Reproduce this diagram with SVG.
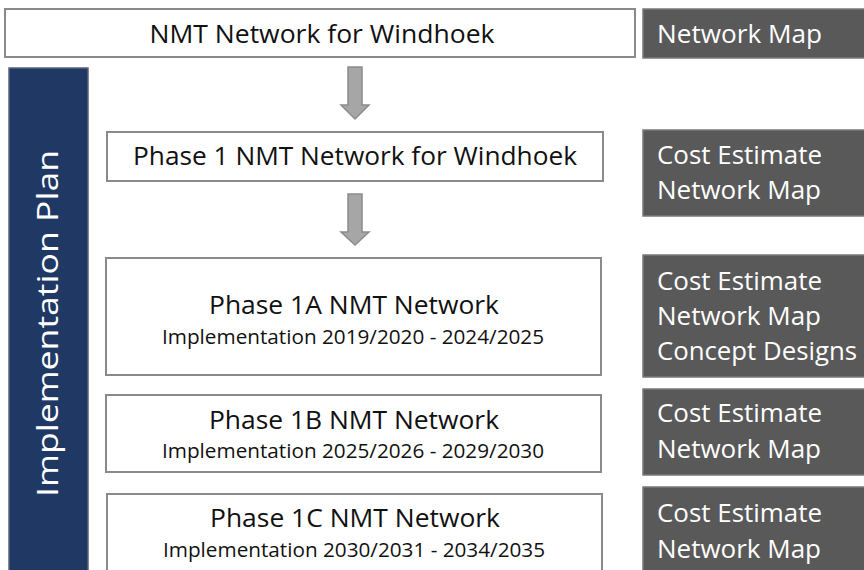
<svg xmlns="http://www.w3.org/2000/svg" width="864" height="570" viewBox="0 0 864 570">
  <defs>
    <style>
      .box { fill: #ffffff; stroke: #8a8a8a; stroke-width: 2; }
      .dark { fill: #595959; stroke: #7a7a7a; stroke-width: 1.5; }
      .band { fill: #203864; stroke: #5a6478; stroke-width: 1.5; }
      .arrow { fill: #a6a6a6; stroke: #8c8c8c; stroke-width: 1.5; stroke-linejoin: miter; }
      text { font-family: "Open Sans", "Noto Sans", "Liberation Sans", sans-serif; }
      .title { font-size: 25px; fill: #111111; text-anchor: middle; }
      .sub { font-size: 20px; fill: #111111; text-anchor: middle; }
      .out { font-size: 25px; fill: #ffffff; }
      .side { font-size: 30px; fill: #ffffff; text-anchor: middle; }
    </style>
  </defs>

  <rect width="864" height="570" fill="#ffffff"/>

  <!-- vertical band -->
  <g id="implementation-plan">
    <rect class="band" x="9" y="68" width="79" height="512"/>
    <text class="side" transform="translate(58 323.5) rotate(-90)" x="0" y="0" textLength="347" lengthAdjust="spacingAndGlyphs">Implementation Plan</text>
  </g>

  <!-- process boxes -->
  <g id="nmt-network">
    <rect class="box" x="5" y="9" width="630" height="48"/>
    <text class="title" x="322" y="43" textLength="345" lengthAdjust="spacingAndGlyphs">NMT Network for Windhoek</text>
  </g>
  <g id="phase-1">
    <rect class="box" x="107" y="132" width="496" height="49"/>
    <text class="title" x="355" y="165" textLength="444" lengthAdjust="spacingAndGlyphs">Phase 1 NMT Network for Windhoek</text>
  </g>
  <g id="phase-1a">
    <rect class="box" x="106" y="258" width="495" height="117"/>
    <text class="title" x="354" y="314" textLength="290" lengthAdjust="spacingAndGlyphs">Phase 1A NMT Network</text>
    <text class="sub" x="353" y="344" textLength="382" lengthAdjust="spacingAndGlyphs">Implementation 2019/2020 - 2024/2025</text>
  </g>
  <g id="phase-1b">
    <rect class="box" x="106" y="395" width="495" height="77"/>
    <text class="title" x="354" y="429" textLength="290" lengthAdjust="spacingAndGlyphs">Phase 1B NMT Network</text>
    <text class="sub" x="353" y="458" textLength="382" lengthAdjust="spacingAndGlyphs">Implementation 2025/2026 - 2029/2030</text>
  </g>
  <g id="phase-1c">
    <rect class="box" x="107" y="494" width="495" height="100"/>
    <text class="title" x="355" y="527" textLength="290" lengthAdjust="spacingAndGlyphs">Phase 1C NMT Network</text>
    <text class="sub" x="354" y="557" textLength="382" lengthAdjust="spacingAndGlyphs">Implementation 2030/2031 - 2034/2035</text>
  </g>

  <!-- deliverable boxes -->
  <g id="out-top">
    <rect class="dark" x="643" y="9" width="230" height="49"/>
    <text class="out" x="657" y="43" textLength="165" lengthAdjust="spacingAndGlyphs">Network Map</text>
  </g>
  <g id="out-phase-1">
    <rect class="dark" x="643" y="130" width="230" height="86"/>
    <text class="out" x="657" y="164" textLength="165" lengthAdjust="spacingAndGlyphs">Cost Estimate</text>
    <text class="out" x="657" y="199" textLength="164" lengthAdjust="spacingAndGlyphs">Network Map</text>
  </g>
  <g id="out-phase-1a">
    <rect class="dark" x="643" y="255" width="230" height="122"/>
    <text class="out" x="657" y="290" textLength="165" lengthAdjust="spacingAndGlyphs">Cost Estimate</text>
    <text class="out" x="657" y="325" textLength="164" lengthAdjust="spacingAndGlyphs">Network Map</text>
    <text class="out" x="657" y="360" textLength="200" lengthAdjust="spacingAndGlyphs">Concept Designs</text>
  </g>
  <g id="out-phase-1b">
    <rect class="dark" x="643" y="389" width="230" height="86"/>
    <text class="out" x="657" y="422" textLength="165" lengthAdjust="spacingAndGlyphs">Cost Estimate</text>
    <text class="out" x="657" y="458" textLength="164" lengthAdjust="spacingAndGlyphs">Network Map</text>
  </g>
  <g id="out-phase-1c">
    <rect class="dark" x="643" y="487" width="230" height="100"/>
    <text class="out" x="657" y="522" textLength="165" lengthAdjust="spacingAndGlyphs">Cost Estimate</text>
    <text class="out" x="657" y="558" textLength="164" lengthAdjust="spacingAndGlyphs">Network Map</text>
  </g>

  <!-- block arrows -->
  <g id="connectors">
    <path class="arrow" d="M348 67 H362 V105 H369 L355 119 L341 105 H348 Z"/>
    <path class="arrow" d="M348 194 H362 V232 H369 L355 245 L341 232 H348 Z"/>
  </g>
</svg>
